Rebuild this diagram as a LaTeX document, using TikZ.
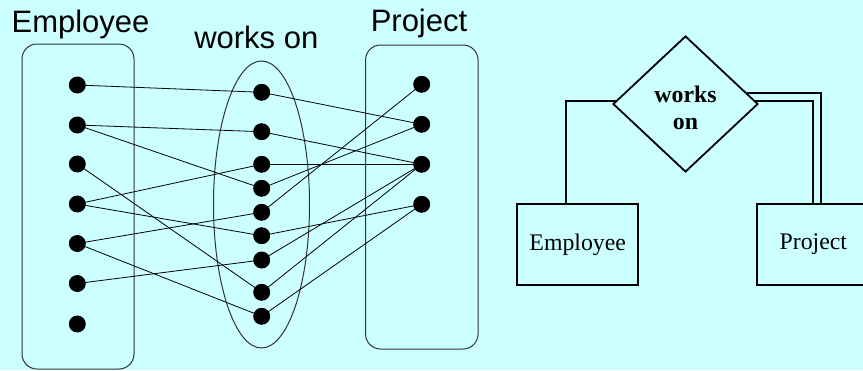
\documentclass[tikz,border=0pt]{standalone}
\usepackage{fontspec}
\setmainfont{Liberation Serif}
\setsansfont{Liberation Sans}
\usetikzlibrary{shapes.geometric}
\definecolor{bgcyan}{HTML}{CCFFFF}
\begin{document}
\begin{tikzpicture}[x=1pt,y=-1pt,
  dot/.style={circle,fill=black,inner sep=0pt,minimum size=17pt},
  setbox/.style={draw=black!80,line width=1pt,rounded corners=15pt,inner sep=0pt},
  link/.style={line width=0.8pt},
  settitle/.style={font=\sffamily\fontsize{31}{37}\selectfont,anchor=base,inner sep=0pt},
  erbox/.style={draw,line width=1.8pt,minimum height=80.7pt,inner sep=0pt,
    font=\fontsize{23.8}{28}\selectfont},
  erline/.style={line width=1.8pt}]
  % canvas
  \fill[bgcyan] (0,0) rectangle (863,370);
  \useasboundingbox (0,0) rectangle (863,370);
  \clip (0,0) rectangle (863,370);

  % ---- instance diagram ----
  \node[setbox,minimum width=112pt,minimum height=325pt] (eset) at (78,206.5) {};
  \node[draw=black!80,line width=1pt,ellipse,inner sep=0pt,minimum width=96pt,minimum height=287pt] (wset) at (261.5,204.5) {};
  \node[setbox,minimum width=112.5pt,minimum height=304pt] (pset) at (421.8,197) {};

  \node[settitle] (etitle) at (80.5,32.3) {Employee};
  \node[settitle] (wtitle) at (256.3,48.3) {works on};
  \node[settitle] (ptitle) at (419,31.7) {Project};

  % employees
  \foreach \i/\y in {1/85,2/125,3/164,4/204,5/243.5,6/283.5,7/324}
    \node[dot] (e\i) at (77.3,\y) {};
  % relationship instances
  \foreach \i/\y in {1/92.3,2/131.7,3/164.3,4/188.3,5/212.3,6/235.7,7/260,8/292.3,9/316.3}
    \node[dot] (w\i) at (261.7,\y) {};
  % projects
  \foreach \i/\y in {1/84.3,2/124.3,3/164.3,4/204.3}
    \node[dot] (p\i) at (421.7,\y) {};

  % employee -- works on
  \foreach \a/\b in {1/1,2/2,2/4,3/8,4/3,4/6,5/5,5/9,6/7}
    \draw[link] (e\a.center) -- (w\b.center);
  % works on -- project
  \foreach \a/\b in {1/2,2/3,3/3,4/2,5/1,6/4,7/3,8/3,9/4}
    \draw[link] (w\a.center) -- (p\b.center);

  % ---- ER diagram ----
  \node[draw,line width=1.8pt,diamond,inner sep=0pt,minimum width=145pt,minimum height=136pt] (rel) at (685.5,104) {};
  \node[font=\bfseries\fontsize{23.8}{26.7}\selectfont,align=center,inner sep=0pt] (reltext) at (685.5,108) {works\\on};
  \node[erbox,minimum width=120.7pt] (eR) at (577.7,244.6) {Employee};
  \node[erbox,minimum width=112pt] (pR) at (813.3,244.6) {Project};

  \draw[erline] ([shift={(3.5pt,3.3pt)}]rel.west) -| ([xshift=-12pt]eR.north);
  \draw[erline] ([shift={(-12pt,11.3pt)}]rel.east) -| ([xshift=8pt]pR.north);
  \draw[erline] ([shift={(-3.5pt,3.3pt)}]rel.east) -| (pR.north);
\end{tikzpicture}
\end{document}
